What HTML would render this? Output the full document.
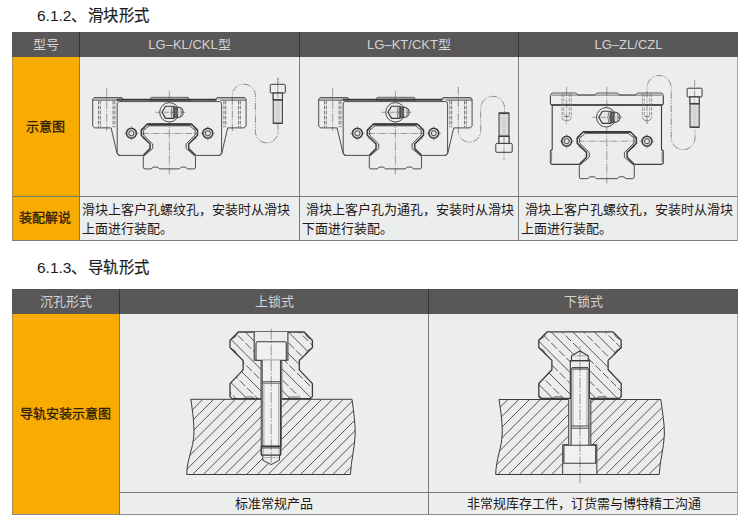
<!DOCTYPE html>
<html lang="zh-CN">
<head>
<meta charset="utf-8">
<title>6.1.2 滑块形式 / 6.1.3 导轨形式</title>
<style>
html,body{margin:0;padding:0;}
body{width:750px;height:528px;position:relative;overflow:hidden;background:#fff;
  font-family:"Liberation Sans",sans-serif;color:#231815;}
.abs{position:absolute;}
h2{position:absolute;margin:0;font-weight:500;font-size:15.4px;-webkit-text-stroke:0.2px #1a1a1a;line-height:20px;left:37px;color:#1a1a1a;white-space:nowrap;}
h2 .n{font-size:15.5px;-webkit-text-stroke:0;}
h2 .c{margin-left:1.3px;letter-spacing:0.45px;}
.hd{position:absolute;background:#595757;color:#d4d4d4;font-size:13px;text-align:center;white-space:nowrap;}
.lab{position:absolute;background:#f8ab00;color:#2e2008;font-size:13px;font-weight:500;-webkit-text-stroke:0.3px #2e2008;text-align:center;white-space:nowrap;}
.lab span{position:relative;left:-0.8px;}
.cell{position:absolute;background:#eceded;}
.txt{position:absolute;font-weight:500;font-size:13px;line-height:19.8px;color:#231815;white-space:nowrap;}
.cap{position:absolute;font-weight:500;font-size:13px;line-height:22px;color:#231815;text-align:center;white-space:nowrap;}
.vl{position:absolute;width:1px;background:#7a7a7a;}
.hl{position:absolute;height:1px;background:#7a7a7a;}
svg{position:absolute;left:0;top:0;}
</style>
</head>
<body>

<h2 style="top:5.5px;"><span class="n">6.1.2</span>、<span class="c">滑块形式</span></h2>

<!-- TABLE 1 -->
<div class="hd" style="left:12px;top:32px;width:726px;height:24.7px;"></div>
<div class="hd" style="left:12px;top:32px;width:68px;height:25px;line-height:25px;">型号</div>
<div class="hd" style="left:80px;top:32px;width:219px;height:25px;line-height:25px;">LG&#8211;KL/CKL型</div>
<div class="hd" style="left:300px;top:32px;width:218px;height:25px;line-height:25px;">LG&#8211;KT/CKT型</div>
<div class="hd" style="left:519px;top:32px;width:219px;height:25px;line-height:25px;">LG&#8211;ZL/CZL</div>

<div class="lab" style="left:12px;top:57px;width:68px;height:139px;line-height:139px;"><span>示意图</span></div>
<div class="lab" style="left:12px;top:196px;width:68px;height:45px;line-height:43.6px;"><span>装配解说</span></div>
<div class="cell" style="left:80px;top:57px;width:658px;height:184px;"></div>

<div class="txt" style="left:82px;top:199.6px;">滑块上客户孔螺纹孔，安装时从滑块<br>上面进行装配。</div>
<div class="txt" style="left:302px;top:199.6px;">&nbsp;滑块上客户孔为通孔，安装时从滑块<br>下面进行装配。</div>
<div class="txt" style="left:521px;top:199.6px;">&nbsp;滑块上客户孔螺纹孔，安装时从滑块<br>上面进行装配。</div>

<div class="hl" style="left:12px;top:196px;width:726px;"></div>
<div class="hl" style="left:12px;top:240px;width:726px;"></div>
<div class="vl" style="left:79px;top:32px;height:25px;background:#3a3636;"></div><div class="vl" style="left:79px;top:57px;height:184px;background:#8f7b4a;"></div>
<div class="vl" style="left:299px;top:32px;height:25px;background:#3a3636;"></div><div class="vl" style="left:299px;top:57px;height:184px;"></div>
<div class="vl" style="left:518px;top:32px;height:25px;background:#3a3636;"></div><div class="vl" style="left:518px;top:57px;height:184px;"></div>
<div class="vl" style="left:12px;top:57px;height:184px;background:#a58a4a;"></div>
<div class="vl" style="left:737px;top:57px;height:184px;background:#a9a9a9;"></div>

<h2 style="top:257.5px;"><span class="n">6.1.3</span>、<span class="c">导轨形式</span></h2>

<!-- TABLE 2 -->
<div class="hd" style="left:12px;top:289px;width:726px;height:25.5px;"></div>
<div class="hd" style="left:12px;top:289px;width:107px;height:25.5px;line-height:25.5px;">沉孔形式</div>
<div class="hd" style="left:120px;top:289px;width:308px;height:25.5px;line-height:25.5px;">上锁式</div>
<div class="hd" style="left:429px;top:289px;width:309px;height:25.5px;line-height:25.5px;">下锁式</div>

<div class="lab" style="left:12px;top:314px;width:108px;height:201px;line-height:199px;"><span>导轨安装示意图</span></div>
<div class="cell" style="left:120px;top:314px;width:618px;height:201px;"></div>
<div class="cap" style="left:120px;top:493px;width:308px;">标准常规产品</div>
<div class="cap" style="left:429px;top:493px;width:309px;">非常规库存工件，订货需与博特精工沟通</div>

<div class="hl" style="left:120px;top:492px;width:618px;"></div>
<div class="hl" style="left:12px;top:514px;width:726px;background:#8a8a8a;"></div>
<div class="vl" style="left:119px;top:289px;height:25px;background:#3a3636;"></div><div class="vl" style="left:119px;top:314px;height:201px;background:#8f7b4a;"></div>
<div class="vl" style="left:428px;top:289px;height:25px;background:#3a3636;"></div><div class="vl" style="left:428px;top:314px;height:201px;"></div>
<div class="vl" style="left:12px;top:314px;height:201px;background:#a58a4a;"></div>
<div class="vl" style="left:737px;top:314px;height:201px;background:#a9a9a9;"></div>

<!--DRAWINGS-->
<svg width="750" height="528" viewBox="0 0 750 528">
<g id="d1"><path d="M143.6,155.4 L119.1,155.4 L117.1,153.6 L111.1,127.9 L94.5,127.9 L92.7,125.9 L92.7,99.2 L94.1,97.6 L121.9,97.6 L123.6,100.2 L215.2,100.2 L216.9,97.6 L244.7,97.6 L246.1,99.2 L246.1,125.9 L244.3,127.9 L227.7,127.9 L221.7,153.6 L219.7,155.4 L195.2,155.4Z" fill="#ededee" stroke="none"/>
<path d="M94.1,97.6 L121.6,97.6 L123.6,100.2 L92.7,100.2 L92.7,99.2Z" fill="#c2c2c2"/>
<path d="M244.7,97.6 L217.2,97.6 L215.2,100.2 L246.1,100.2 L246.1,99.2Z" fill="#c2c2c2"/>
<path d="M149.6,100.2 L151.2,97.3 L188.2,97.3 L189.8,100.2Z" fill="#b4b4b4" stroke="#3e3a39" stroke-width="0.7"/>
<path d="M143.6,155.4 L119.1,155.4 L117.1,153.6 L111.1,127.9 L94.5,127.9 L92.7,125.9 L92.7,99.2 L94.1,97.6 L121.9,97.6 L123.6,100.2" fill="none" stroke="#3e3a39" stroke-width="0.9" stroke-linejoin="round"/>
<path d="M195.2,155.4 L219.7,155.4 L221.7,153.6 L227.7,127.9 L244.3,127.9 L246.1,125.9 L246.1,99.2 L244.7,97.6 L216.9,97.6 L215.2,100.2" fill="none" stroke="#3e3a39" stroke-width="0.9" stroke-linejoin="round"/>
<path d="M92.7,100.2 H118.4 M220.4,100.2 H246.1" stroke="#3e3a39" stroke-width="0.7" fill="none"/>
<path d="M116.8,99.8 H216.4" stroke="#3e3a39" stroke-width="2" fill="none"/>
<path d="M120.2,155.4 Q117.2,155.4 117.2,152.4 V103.8 Q117.2,101.6 119.4,101.6 H219.4 Q221.6,101.6 221.6,103.8 V152.4 Q221.6,155.4 218.6,155.4" fill="none" stroke="#3e3a39" stroke-width="0.9"/>
<path d="M98.5,100.8 V127.3" stroke="#777" stroke-width="1" stroke-dasharray="3.6 1.4" fill="none"/>
<path d="M100.3,100.8 V127.3" stroke="#777" stroke-width="1" stroke-dasharray="3.6 1.4" fill="none"/>
<path d="M113.1,100.8 V127.3" stroke="#777" stroke-width="1" stroke-dasharray="3.6 1.4" fill="none"/>
<path d="M114.9,100.8 V127.3" stroke="#777" stroke-width="1" stroke-dasharray="3.6 1.4" fill="none"/>
<path d="M223.9,100.8 V127.3" stroke="#777" stroke-width="1" stroke-dasharray="3.6 1.4" fill="none"/>
<path d="M225.7,100.8 V127.3" stroke="#777" stroke-width="1" stroke-dasharray="3.6 1.4" fill="none"/>
<path d="M238.5,100.8 V127.3" stroke="#777" stroke-width="1" stroke-dasharray="3.6 1.4" fill="none"/>
<path d="M240.3,100.8 V127.3" stroke="#777" stroke-width="1" stroke-dasharray="3.6 1.4" fill="none"/>
<path d="M106.7,87.6 V130.9" stroke="#3e3a39" stroke-width="0.45" stroke-dasharray="9 1.3 1.2 1.3" fill="none"/>
<path d="M149.1,125.8 L143.6,130.3 L143.6,135 L152.7,144 L152.7,148.5 L143.3,156.5 L143.3,167.2 Q143.3,168.9 145.1,168.9 H150.9 Q152.1,168.9 153.1,167.1 H157.2 Q158.2,167.1 159.4,168.9 H179.4 Q180.6,167.1 181.6,167.1 H185.7 Q186.7,168.9 187.9,168.9 H193.7 Q195.5,168.9 195.5,167.2 L195.5,156.5 L186.1,148.5 L186.1,144 L195.2,135 L195.2,130.3 L189.7,125.8Z" fill="#ececed" stroke="#3e3a39" stroke-width="0.9" stroke-linejoin="round"/>
<path d="M143.4,155.4 L150.1,148.6 L150.1,144 L141.3,135.2 L141.3,130.1 L147.1,124.2 L191.7,124.2 L197.5,130.1 L197.5,135.2 L188.7,144 L188.7,148.6 L195.4,155.4" fill="none" stroke="#3e3a39" stroke-width="1.5" stroke-linejoin="round"/>
<path d="M147.4,124.4 H191.4" stroke="#3e3a39" stroke-width="2.1"/>
<path d="M144.6,128.2 q-2.6,0.3 -3.2,3.2 M145.8,140.6 q-0.6,-2.6 -3.4,-2.6" fill="none" stroke="#3e3a39" stroke-width="0.7"/>
<path d="M194.2,128.2 q2.6,0.3 3.2,3.2 M193,140.6 q0.6,-2.6 3.4,-2.6" fill="none" stroke="#3e3a39" stroke-width="0.7"/>
<path d="M169.4,91 V174.5" stroke="#3e3a39" stroke-width="0.45" stroke-dasharray="9 1.3 1.2 1.3" fill="none"/>
<path d="M141.9,133.5 H197.4" stroke="#3e3a39" stroke-width="0.45" stroke-dasharray="7 1.3 1.2 1.3" fill="none"/>
<circle cx="131.4" cy="133.3" r="5" fill="#cfcfcf" stroke="#3e3a39" stroke-width="1.5"/>
<circle cx="131.4" cy="133.3" r="2.5" fill="#e6e6e6" stroke="#3e3a39" stroke-width="0.9"/>
<path d="M131.4,126.1 v1.6 M131.4,138.9 v1.6 M124.2,133.3 h1.6 M137,133.3 h1.6" stroke="#3e3a39" stroke-width="0.45" fill="none"/>
<circle cx="207.8" cy="133.3" r="5" fill="#cfcfcf" stroke="#3e3a39" stroke-width="1.5"/>
<circle cx="207.8" cy="133.3" r="2.5" fill="#e6e6e6" stroke="#3e3a39" stroke-width="0.9"/>
<path d="M207.8,126.1 v1.6 M207.8,138.9 v1.6 M200.6,133.3 h1.6 M213.4,133.3 h1.6" stroke="#3e3a39" stroke-width="0.45" fill="none"/>
<circle cx="169.4" cy="112.3" r="9.7" fill="#eceded" stroke="#3e3a39" stroke-width="0.9"/>
<path d="M174.2,118.36 L172.5,118.36 L165.5,118.36 L162,112.3 L165.5,106.24 L172.5,106.24 L174.2,106.24Z" fill="#e6e6e6" stroke="#3e3a39" stroke-width="1.2" stroke-linejoin="round"/>
<path d="M172,106.7 q-1.6,5.6 0,11.2 M173.6,106.9 q-1.6,5.4 0,10.8" fill="none" stroke="#3e3a39" stroke-width="0.6"/>
<path d="M174.6,107 h2.6 q0.9,5.3 0,10.6 h-2.6 q-1.2,-5.3 0,-10.6z" fill="#6f6f6f" stroke="#3e3a39" stroke-width="0.8"/>
<path d="M177.6,107.1 q5.6,0.2 5.6,5.2 q0,5 -5.6,5.2 q-1,-5.2 0,-10.4z" fill="#dedede" stroke="#3e3a39" stroke-width="1"/>
<path d="M180.6,108.1 q1.8,4.2 0,8.4" fill="none" stroke="#3e3a39" stroke-width="0.55"/>
<path d="M155.4,112.3 H185.4" stroke="#3e3a39" stroke-width="0.45" stroke-dasharray="5 1.2 1 1.2" fill="none"/>
<path d="M232.3,131 V95.7 A11.55,11.55 0 0 1 255.4,95.7 V131.6 A11.3,11.3 0 0 0 278,131.6 V77" stroke="#3e3a39" stroke-width="0.55" stroke-dasharray="7 1.3 1.1 1.3 1.1 1.3" fill="none"/>
<rect x="270.3" y="84.3" width="15" height="8.8" rx="1" fill="#eceded" stroke="#3e3a39" stroke-width="1"/>
<rect x="273.2" y="93.1" width="9.2" height="30.2" fill="#d4d4d4" stroke="#3e3a39" stroke-width="1"/>
<rect x="273.2" y="93.1" width="9.2" height="6.6" fill="#eceded" stroke="#3e3a39" stroke-width="1"/>
<path d="M273.2,99.9 h9.2" stroke="#3e3a39" stroke-width="1.4"/>
<path d="M275.2,101.3 v22 M280.4,101.3 v22" stroke="#f4f4f4" stroke-width="0.8" stroke-dasharray="2.2 1.2" fill="none"/>
<path d="M273.2,123.3 h9.2" stroke="#3e3a39" stroke-width="1.3"/>
<path d="M277.8,78 V98" stroke="#3e3a39" stroke-width="0.45" fill="none"/></g>
<g id="d2"><path d="M369.6,155.4 L345.1,155.4 L343.1,153.6 L337.1,127.9 L320.5,127.9 L318.7,125.9 L318.7,99.2 L320.1,97.6 L347.9,97.6 L349.6,100.2 L441.2,100.2 L442.9,97.6 L470.7,97.6 L472.1,99.2 L472.1,125.9 L470.3,127.9 L453.7,127.9 L447.7,153.6 L445.7,155.4 L421.2,155.4Z" fill="#ededee" stroke="none"/>
<path d="M320.1,97.6 L347.6,97.6 L349.6,100.2 L318.7,100.2 L318.7,99.2Z" fill="#c2c2c2"/>
<path d="M470.7,97.6 L443.2,97.6 L441.2,100.2 L472.1,100.2 L472.1,99.2Z" fill="#c2c2c2"/>
<path d="M375.6,100.2 L377.2,97.3 L414.2,97.3 L415.8,100.2Z" fill="#b4b4b4" stroke="#3e3a39" stroke-width="0.7"/>
<path d="M369.6,155.4 L345.1,155.4 L343.1,153.6 L337.1,127.9 L320.5,127.9 L318.7,125.9 L318.7,99.2 L320.1,97.6 L347.9,97.6 L349.6,100.2" fill="none" stroke="#3e3a39" stroke-width="0.9" stroke-linejoin="round"/>
<path d="M421.2,155.4 L445.7,155.4 L447.7,153.6 L453.7,127.9 L470.3,127.9 L472.1,125.9 L472.1,99.2 L470.7,97.6 L442.9,97.6 L441.2,100.2" fill="none" stroke="#3e3a39" stroke-width="0.9" stroke-linejoin="round"/>
<path d="M318.7,100.2 H344.4 M446.4,100.2 H472.1" stroke="#3e3a39" stroke-width="0.7" fill="none"/>
<path d="M342.8,99.8 H442.4" stroke="#3e3a39" stroke-width="2" fill="none"/>
<path d="M346.2,155.4 Q343.2,155.4 343.2,152.4 V103.8 Q343.2,101.6 345.4,101.6 H445.4 Q447.6,101.6 447.6,103.8 V152.4 Q447.6,155.4 444.6,155.4" fill="none" stroke="#3e3a39" stroke-width="0.9"/>
<path d="M324.5,100.8 V127.3" stroke="#777" stroke-width="1" stroke-dasharray="3.6 1.4" fill="none"/>
<path d="M326.3,100.8 V127.3" stroke="#777" stroke-width="1" stroke-dasharray="3.6 1.4" fill="none"/>
<path d="M339.1,100.8 V127.3" stroke="#777" stroke-width="1" stroke-dasharray="3.6 1.4" fill="none"/>
<path d="M340.9,100.8 V127.3" stroke="#777" stroke-width="1" stroke-dasharray="3.6 1.4" fill="none"/>
<path d="M449.9,100.8 V127.3" stroke="#777" stroke-width="1" stroke-dasharray="3.6 1.4" fill="none"/>
<path d="M451.7,100.8 V127.3" stroke="#777" stroke-width="1" stroke-dasharray="3.6 1.4" fill="none"/>
<path d="M464.5,100.8 V127.3" stroke="#777" stroke-width="1" stroke-dasharray="3.6 1.4" fill="none"/>
<path d="M466.3,100.8 V127.3" stroke="#777" stroke-width="1" stroke-dasharray="3.6 1.4" fill="none"/>
<path d="M332.7,87.6 V130.9" stroke="#3e3a39" stroke-width="0.45" stroke-dasharray="9 1.3 1.2 1.3" fill="none"/>
<path d="M375.1,125.8 L369.6,130.3 L369.6,135 L378.7,144 L378.7,148.5 L369.3,156.5 L369.3,167.2 Q369.3,168.9 371.1,168.9 H376.9 Q378.1,168.9 379.1,167.1 H383.2 Q384.2,167.1 385.4,168.9 H405.4 Q406.6,167.1 407.6,167.1 H411.7 Q412.7,168.9 413.9,168.9 H419.7 Q421.5,168.9 421.5,167.2 L421.5,156.5 L412.1,148.5 L412.1,144 L421.2,135 L421.2,130.3 L415.7,125.8Z" fill="#ececed" stroke="#3e3a39" stroke-width="0.9" stroke-linejoin="round"/>
<path d="M369.4,155.4 L376.1,148.6 L376.1,144 L367.3,135.2 L367.3,130.1 L373.1,124.2 L417.7,124.2 L423.5,130.1 L423.5,135.2 L414.7,144 L414.7,148.6 L421.4,155.4" fill="none" stroke="#3e3a39" stroke-width="1.5" stroke-linejoin="round"/>
<path d="M373.4,124.4 H417.4" stroke="#3e3a39" stroke-width="2.1"/>
<path d="M370.6,128.2 q-2.6,0.3 -3.2,3.2 M371.8,140.6 q-0.6,-2.6 -3.4,-2.6" fill="none" stroke="#3e3a39" stroke-width="0.7"/>
<path d="M420.2,128.2 q2.6,0.3 3.2,3.2 M419,140.6 q0.6,-2.6 3.4,-2.6" fill="none" stroke="#3e3a39" stroke-width="0.7"/>
<path d="M395.4,91 V174.5" stroke="#3e3a39" stroke-width="0.45" stroke-dasharray="9 1.3 1.2 1.3" fill="none"/>
<path d="M367.9,133.5 H423.4" stroke="#3e3a39" stroke-width="0.45" stroke-dasharray="7 1.3 1.2 1.3" fill="none"/>
<circle cx="357.4" cy="133.3" r="5" fill="#cfcfcf" stroke="#3e3a39" stroke-width="1.5"/>
<circle cx="357.4" cy="133.3" r="2.5" fill="#e6e6e6" stroke="#3e3a39" stroke-width="0.9"/>
<path d="M357.4,126.1 v1.6 M357.4,138.9 v1.6 M350.2,133.3 h1.6 M363,133.3 h1.6" stroke="#3e3a39" stroke-width="0.45" fill="none"/>
<circle cx="433.8" cy="133.3" r="5" fill="#cfcfcf" stroke="#3e3a39" stroke-width="1.5"/>
<circle cx="433.8" cy="133.3" r="2.5" fill="#e6e6e6" stroke="#3e3a39" stroke-width="0.9"/>
<path d="M433.8,126.1 v1.6 M433.8,138.9 v1.6 M426.6,133.3 h1.6 M439.4,133.3 h1.6" stroke="#3e3a39" stroke-width="0.45" fill="none"/>
<circle cx="395.4" cy="112.3" r="9.7" fill="#eceded" stroke="#3e3a39" stroke-width="0.9"/>
<path d="M400.2,118.36 L398.5,118.36 L391.5,118.36 L388,112.3 L391.5,106.24 L398.5,106.24 L400.2,106.24Z" fill="#e6e6e6" stroke="#3e3a39" stroke-width="1.2" stroke-linejoin="round"/>
<path d="M398,106.7 q-1.6,5.6 0,11.2 M399.6,106.9 q-1.6,5.4 0,10.8" fill="none" stroke="#3e3a39" stroke-width="0.6"/>
<path d="M400.6,107 h2.6 q0.9,5.3 0,10.6 h-2.6 q-1.2,-5.3 0,-10.6z" fill="#6f6f6f" stroke="#3e3a39" stroke-width="0.8"/>
<path d="M403.6,107.1 q5.6,0.2 5.6,5.2 q0,5 -5.6,5.2 q-1,-5.2 0,-10.4z" fill="#dedede" stroke="#3e3a39" stroke-width="1"/>
<path d="M406.6,108.1 q1.8,4.2 0,8.4" fill="none" stroke="#3e3a39" stroke-width="0.55"/>
<path d="M381.4,112.3 H411.4" stroke="#3e3a39" stroke-width="0.45" stroke-dasharray="5 1.2 1 1.2" fill="none"/>
<path d="M458.3,87 V131 A11.2,11.2 0 0 0 480.7,131 V108.3 A12,12 0 0 1 504.7,108.3 V113" stroke="#3e3a39" stroke-width="0.55" stroke-dasharray="7 1.3 1.1 1.3 1.1 1.3" fill="none"/>
<rect x="499" y="113" width="10" height="30.4" fill="#d4d4d4" stroke="#3e3a39" stroke-width="1"/>
<rect x="499" y="136.4" width="10" height="7" fill="#eceded" stroke="#3e3a39" stroke-width="1"/>
<path d="M499,136.2 h10" stroke="#3e3a39" stroke-width="1.4"/>
<path d="M499,113.2 h10" stroke="#3e3a39" stroke-width="1.4"/>
<path d="M501.2,115 v20 M506.8,115 v20" stroke="#f4f4f4" stroke-width="0.8" stroke-dasharray="2.2 1.2" fill="none"/>
<rect x="495.8" y="143.4" width="16.4" height="8.9" rx="1" fill="#eceded" stroke="#3e3a39" stroke-width="1"/>
<path d="M504,136 V160" stroke="#3e3a39" stroke-width="0.45" stroke-dasharray="7 1.3 1.2 1.3" fill="none"/></g>
<g id="d3"><path d="M550.4,95.4 Q550.4,93 552.8,93 H660.9 Q663.3,93 663.3,95.4 V164.4 H550.4 Z" fill="#ededee"/>
<path d="M550.4,95.6 L551,93.8 L552.8,93 L576,93 L578,95 L594.7,95 L596.7,93 L617.6,93 L619.4,95 L635.6,95 L637.4,93 L660.9,93 L662.7,93.8 L663.3,95.6" fill="none" stroke="#3e3a39" stroke-width="0.85" stroke-linejoin="round"/>
<path d="M551.6,95.1 H662.1" stroke="#3e3a39" stroke-width="0.7" fill="none"/>
<path d="M550.4,95.6 V103 Q550.4,105 552.4,105 H661.3 Q663.3,105 663.3,103 V95.6" fill="none" stroke="#3e3a39" stroke-width="1.1"/>
<path d="M552.4,105 H661.3" stroke="#3e3a39" stroke-width="1.5" fill="none"/>
<path d="M552.2,105 V149.5 L550.4,151 V161.9 Q550.4,164.4 553,164.4" fill="none" stroke="#3e3a39" stroke-width="1.1" stroke-linejoin="round"/>
<path d="M551.3,151.5 V161.9" stroke="#8a8a8a" stroke-width="1.6" fill="none"/>
<path d="M661.5,105 V149.5 L663.3,151 V161.9 Q663.3,164.4 660.7,164.4" fill="none" stroke="#3e3a39" stroke-width="1.1" stroke-linejoin="round"/>
<path d="M662.4,151.5 V161.9" stroke="#8a8a8a" stroke-width="1.6" fill="none"/>
<path d="M552.8,164.4 H579.42 M634.18,164.4 H660.9" stroke="#3e3a39" stroke-width="1.1" fill="none"/>
<path d="M562,93.6 V117.6" stroke="#6e6e6e" stroke-width="0.7" stroke-dasharray="3.4 1.2" fill="none"/>
<path d="M571.2,93.6 V117.6" stroke="#6e6e6e" stroke-width="0.7" stroke-dasharray="3.4 1.2" fill="none"/>
<path d="M563.9,93.6 V116.2" stroke="#6e6e6e" stroke-width="0.6" stroke-dasharray="3.4 1.2" fill="none"/>
<path d="M569.3,93.6 V116.2" stroke="#6e6e6e" stroke-width="0.6" stroke-dasharray="3.4 1.2" fill="none"/>
<path d="M563.9,116.4 H569.3" stroke="#6a6a6a" stroke-width="0.9" fill="none"/>
<path d="M562,117.6 Q562.4,120.6 566.6,121 Q570.8,120.6 571.2,117.6" stroke="#7a7a7a" stroke-width="0.8" fill="none"/>
<path d="M566.6,87 V125" stroke="#3e3a39" stroke-width="0.45" stroke-dasharray="9 1.3 1.2 1.3" fill="none"/>
<path d="M642.4,93.6 V117.6" stroke="#6e6e6e" stroke-width="0.7" stroke-dasharray="3.4 1.2" fill="none"/>
<path d="M651.6,93.6 V117.6" stroke="#6e6e6e" stroke-width="0.7" stroke-dasharray="3.4 1.2" fill="none"/>
<path d="M644.3,93.6 V116.2" stroke="#6e6e6e" stroke-width="0.6" stroke-dasharray="3.4 1.2" fill="none"/>
<path d="M649.7,93.6 V116.2" stroke="#6e6e6e" stroke-width="0.6" stroke-dasharray="3.4 1.2" fill="none"/>
<path d="M644.3,116.4 H649.7" stroke="#6a6a6a" stroke-width="0.9" fill="none"/>
<path d="M642.4,117.6 Q642.8,120.6 647,121 Q651.2,120.6 651.6,117.6" stroke="#7a7a7a" stroke-width="0.8" fill="none"/>
<path d="M585.42,133.3 L579.63,138.04 L579.63,142.99 L589.21,152.46 L589.21,157.2 L579.32,165.63 L579.32,176.89 Q579.32,178.68 581.21,178.68 H587.32 Q588.58,178.68 589.64,176.79 H593.95 Q595.01,176.79 596.27,178.68 H617.33 Q618.59,176.79 619.65,176.79 H623.96 Q625.02,178.68 626.28,178.68 H632.39 Q634.28,178.68 634.28,176.89 L634.28,165.63 L624.39,157.2 L624.39,152.46 L633.97,142.99 L633.97,138.04 L628.18,133.3Z" fill="#ececed" stroke="#3e3a39" stroke-width="0.9" stroke-linejoin="round"/>
<path d="M579.42,164.4 L586.48,157.24 L586.48,152.4 L577.21,143.13 L577.21,137.76 L583.32,131.8 L630.28,131.8 L636.39,137.76 L636.39,143.13 L627.12,152.4 L627.12,157.24 L634.18,164.4" fill="none" stroke="#3e3a39" stroke-width="1.5" stroke-linejoin="round"/>
<path d="M583.8,132 H629.8" stroke="#3e3a39" stroke-width="2.1"/>
<path d="M580.8,136 q-2.6,0.3 -3.2,3.2 M582,149 q-0.6,-2.6 -3.4,-2.6" fill="none" stroke="#3e3a39" stroke-width="0.7"/>
<path d="M632.8,136 q2.6,0.3 3.2,3.2 M631.6,149 q0.6,-2.6 3.4,-2.6" fill="none" stroke="#3e3a39" stroke-width="0.7"/>
<path d="M606.8,87 V183.5" stroke="#3e3a39" stroke-width="0.45" stroke-dasharray="9 1.3 1.2 1.3" fill="none"/>
<path d="M577.8,141.2 H636.3" stroke="#3e3a39" stroke-width="0.45" stroke-dasharray="7 1.3 1.2 1.3" fill="none"/>
<circle cx="566.7" cy="141.2" r="5" fill="#cfcfcf" stroke="#3e3a39" stroke-width="1.5"/>
<circle cx="566.7" cy="141.2" r="2.5" fill="#e6e6e6" stroke="#3e3a39" stroke-width="0.9"/>
<path d="M566.7,134 v1.6 M566.7,146.8 v1.6 M559.5,141.2 h1.6 M572.3,141.2 h1.6" stroke="#3e3a39" stroke-width="0.45" fill="none"/>
<circle cx="647" cy="141.2" r="5" fill="#cfcfcf" stroke="#3e3a39" stroke-width="1.5"/>
<circle cx="647" cy="141.2" r="2.5" fill="#e6e6e6" stroke="#3e3a39" stroke-width="0.9"/>
<path d="M647,134 v1.6 M647,146.8 v1.6 M639.8,141.2 h1.6 M652.6,141.2 h1.6" stroke="#3e3a39" stroke-width="0.45" fill="none"/>
<circle cx="606.2" cy="117.3" r="9.7" fill="#eceded" stroke="#3e3a39" stroke-width="0.9"/>
<path d="M611,123.36 L609.3,123.36 L602.3,123.36 L598.8,117.3 L602.3,111.24 L609.3,111.24 L611,111.24Z" fill="#e6e6e6" stroke="#3e3a39" stroke-width="1.2" stroke-linejoin="round"/>
<path d="M608.8,111.7 q-1.6,5.6 0,11.2 M610.4,111.9 q-1.6,5.4 0,10.8" fill="none" stroke="#3e3a39" stroke-width="0.6"/>
<path d="M611.4,112 h2.6 q0.9,5.3 0,10.6 h-2.6 q-1.2,-5.3 0,-10.6z" fill="#6f6f6f" stroke="#3e3a39" stroke-width="0.8"/>
<path d="M614.4,112.1 q5.6,0.2 5.6,5.2 q0,5 -5.6,5.2 q-1,-5.2 0,-10.4z" fill="#dedede" stroke="#3e3a39" stroke-width="1"/>
<path d="M617.4,113.1 q1.8,4.2 0,8.4" fill="none" stroke="#3e3a39" stroke-width="0.55"/>
<path d="M592.2,117.3 H622.2" stroke="#3e3a39" stroke-width="0.45" stroke-dasharray="5 1.2 1 1.2" fill="none"/>
<path d="M647,124 V87.6 A12.1,12.1 0 0 1 671.2,87.6 V137.8 A11.9,11.9 0 0 0 695,137.8 V129.5" stroke="#3e3a39" stroke-width="0.55" stroke-dasharray="7 1.3 1.1 1.3 1.1 1.3" fill="none"/>
<rect x="687.1" y="88.2" width="15" height="8.8" rx="1" fill="#eceded" stroke="#3e3a39" stroke-width="1"/>
<rect x="690" y="97" width="9.2" height="30.2" fill="#d4d4d4" stroke="#3e3a39" stroke-width="1"/>
<rect x="690" y="97" width="9.2" height="6.6" fill="#eceded" stroke="#3e3a39" stroke-width="1"/>
<path d="M690,103.8 h9.2" stroke="#3e3a39" stroke-width="1.4"/>
<path d="M692,105.2 v22 M697.2,105.2 v22" stroke="#f4f4f4" stroke-width="0.8" stroke-dasharray="2.2 1.2" fill="none"/>
<path d="M690,127.2 h9.2" stroke="#3e3a39" stroke-width="1.3"/>
<path d="M694.6,79.7 V103" stroke="#3e3a39" stroke-width="0.45" stroke-dasharray="7 1.3 1.2 1.3" fill="none"/></g>
<g id="d4"><defs>
<clipPath id="cR1"><path d="M238.2,332 L230,340.4 L230,347.6 L243.1,360.5 L243.1,369.9 L230,383.6 L230,396.6 L232,398.6 L310.4,398.6 L312.4,396.6 L312.4,383.6 L299.3,369.9 L299.3,360.5 L312.4,347.6 L312.4,340.4 L304.2,332Z"/></clipPath>
<clipPath id="cB1"><path d="M190.8,399.3 H352 C353.6,411.3 355.4,424 355.2,434 C354.8,448 351,460.5 350.4,474.5 H186.7 C187,458.5 193.3,449 193.9,434 C194.3,426 192.8,411.3 190.8,399.3Z"/></clipPath>
</defs>
<path d="M190.8,399.3 H352 C353.6,411.3 355.4,424 355.2,434 C354.8,448 351,460.5 350.4,474.5 H186.7 C187,458.5 193.3,449 193.9,434 C194.3,426 192.8,411.3 190.8,399.3Z" fill="#ececed"/>
<g clip-path="url(#cB1)" stroke="#3c3c3c" stroke-width="0.85" fill="none">
<path d="M164,395 L79,480"/>
<path d="M174.8,395 L89.8,480"/>
<path d="M185.6,395 L100.6,480"/>
<path d="M196.4,395 L111.4,480"/>
<path d="M207.2,395 L122.2,480"/>
<path d="M218,395 L133,480"/>
<path d="M228.8,395 L143.8,480"/>
<path d="M239.6,395 L154.6,480"/>
<path d="M250.4,395 L165.4,480"/>
<path d="M261.2,395 L176.2,480"/>
<path d="M272,395 L187,480"/>
<path d="M282.8,395 L197.8,480"/>
<path d="M293.6,395 L208.6,480"/>
<path d="M304.4,395 L219.4,480"/>
<path d="M315.2,395 L230.2,480"/>
<path d="M326,395 L241,480"/>
<path d="M336.8,395 L251.8,480"/>
<path d="M347.6,395 L262.6,480"/>
<path d="M358.4,395 L273.4,480"/>
<path d="M369.2,395 L284.2,480"/>
<path d="M380,395 L295,480"/>
<path d="M390.8,395 L305.8,480"/>
<path d="M401.6,395 L316.6,480"/>
<path d="M412.4,395 L327.4,480"/>
<path d="M423.2,395 L338.2,480"/>
<path d="M434,395 L349,480"/>
<path d="M444.8,395 L359.8,480"/>
<path d="M455.6,395 L370.6,480"/>
<path d="M466.4,395 L381.4,480"/>
</g>
<path d="M190.8,399.3 H352 C353.6,411.3 355.4,424 355.2,434 C354.8,448 351,460.5 350.4,474.5 H186.7 C187,458.5 193.3,449 193.9,434 C194.3,426 192.8,411.3 190.8,399.3Z" fill="none" stroke="#3e3a39" stroke-width="1" stroke-linejoin="round"/>
<path d="M238.2,332 L230,340.4 L230,347.6 L243.1,360.5 L243.1,369.9 L230,383.6 L230,396.6 L232,398.6 L310.4,398.6 L312.4,396.6 L312.4,383.6 L299.3,369.9 L299.3,360.5 L312.4,347.6 L312.4,340.4 L304.2,332Z" fill="#ececed"/>
<g clip-path="url(#cR1)" stroke="#3c3c3c" stroke-width="0.85" fill="none">
<path d="M133.2,328 L207.2,402"/>
<path d="M144,328 L218,402" stroke-dasharray="8 2.6"/>
<path d="M154.8,328 L228.8,402"/>
<path d="M165.6,328 L239.6,402" stroke-dasharray="8 2.6"/>
<path d="M176.4,328 L250.4,402"/>
<path d="M187.2,328 L261.2,402" stroke-dasharray="8 2.6"/>
<path d="M198,328 L272,402"/>
<path d="M208.8,328 L282.8,402" stroke-dasharray="8 2.6"/>
<path d="M219.6,328 L293.6,402"/>
<path d="M230.4,328 L304.4,402" stroke-dasharray="8 2.6"/>
<path d="M241.2,328 L315.2,402"/>
<path d="M252,328 L326,402" stroke-dasharray="8 2.6"/>
<path d="M262.8,328 L336.8,402"/>
<path d="M273.6,328 L347.6,402" stroke-dasharray="8 2.6"/>
<path d="M284.4,328 L358.4,402"/>
<path d="M295.2,328 L369.2,402" stroke-dasharray="8 2.6"/>
<path d="M306,328 L380,402"/>
<path d="M316.8,328 L390.8,402" stroke-dasharray="8 2.6"/>
<path d="M327.6,328 L401.6,402"/>
<path d="M338.4,328 L412.4,402" stroke-dasharray="8 2.6"/>
</g>
<path d="M237.6,332.7 Q236,338.2 230.6,339.7 Z" fill="#f2f2f2" stroke="#3e3a39" stroke-width="0.8"/>
<path d="M230.4,348 Q235.6,349.6 237.2,354.8 Z" fill="#f2f2f2" stroke="#3e3a39" stroke-width="0.8"/>
<path d="M304.8,332.7 Q306.4,338.2 311.8,339.7 Z" fill="#f2f2f2" stroke="#3e3a39" stroke-width="0.8"/>
<path d="M312,348 Q306.8,349.6 305.2,354.8 Z" fill="#f2f2f2" stroke="#3e3a39" stroke-width="0.8"/>
<path d="M244,399 L245.4,397 H253 L254.4,399 Z" fill="#ececed" stroke="#3e3a39" stroke-width="0.7"/>
<path d="M298.4,399 L297,397 H289.4 L288,399 Z" fill="#ececed" stroke="#3e3a39" stroke-width="0.7"/>
<path d="M238.2,332 L230,340.4 L230,347.6 L243.1,360.5 L243.1,369.9 L230,383.6 L230,396.6 L232,398.6 L310.4,398.6 L312.4,396.6 L312.4,383.6 L299.3,369.9 L299.3,360.5 L312.4,347.6 L312.4,340.4 L304.2,332Z" fill="none" stroke="#3e3a39" stroke-width="1.3" stroke-linejoin="round"/>
<rect x="254.2" y="332" width="33.7" height="28.2" fill="#ececed" stroke="none"/>
<rect x="261" y="360" width="20.8" height="86.5" fill="#ececed"/>
<path d="M261.3,446 V455.1 H262.8 V460.2 L271.1,464.6 L279.5,460.2 V455.1 H280.7 V446 Z" fill="#ececed" stroke="#3e3a39" stroke-width="1" stroke-linejoin="round"/>
<path d="M261.3,455.1 H280.7" stroke="#3e3a39" stroke-width="1.3"/>
<path d="M262.8,457.6 H279.5" stroke="#8a8a8a" stroke-width="0.6"/>
<path d="M254.2,332 V360.2 H261 M287.9,332 V360.2 H281.8" fill="none" stroke="#3e3a39" stroke-width="1.1"/>
<path d="M261,360.2 V399 M281.8,360.2 V399" fill="none" stroke="#3e3a39" stroke-width="0.9"/>
<path d="M256,360.2 V343.4 Q256,341.8 257.6,341.8 H284.7 Q286.3,341.8 286.3,343.4 V360.2 Z" fill="#f1f1f1" stroke="#3e3a39" stroke-width="1.1"/>
<path d="M262.1,360.2 V446.4 H280.5 V360.2" fill="#f1f1f1" stroke="#3e3a39" stroke-width="1.1"/>
<path d="M261.2,399 V446.4 M281.4,399 V446.4" fill="none" stroke="#3e3a39" stroke-width="0.8"/>
<path d="M262.1,381.6 H280.5 M262.1,383.2 H280.5" stroke="#3e3a39" stroke-width="0.8"/>
<path d="M263.9,383.2 V446 M278.7,383.2 V446" stroke="#6a6a6a" stroke-width="0.6"/>
<path d="M261.3,446 V455.1 M280.7,446 V455.1" stroke="#3e3a39" stroke-width="1.1"/>
<path d="M263.1,448 V455 M279.2,448 V455" stroke="#6a6a6a" stroke-width="0.6"/>
<path d="M261.3,446.1 H280.7 M261.8,447.9 H280.2" stroke="#3e3a39" stroke-width="1"/>
<path d="M271.2,328.8 V463" stroke="#3e3a39" stroke-width="0.5" stroke-dasharray="11 1.6 1.6 1.6" fill="none"/></g>
<g id="d5"><defs>
<clipPath id="cR2"><path d="M547,331.9 L538.8,340.3 L538.8,347.5 L551.9,360.4 L551.9,369.8 L538.8,383.5 L538.8,396.5 L540.8,398.5 L619.2,398.5 L621.2,396.5 L621.2,383.5 L608.1,369.8 L608.1,360.4 L621.2,347.5 L621.2,340.3 L613,331.9Z"/></clipPath>
<clipPath id="cB2"><path d="M499,399.5 H660.8 C662.4,411.5 664.6,424 664.4,434 C664,448 659.8,460.5 659.2,474.5 H495.7 C496,458.5 501.6,449 502.2,434 C502.6,426 501,411.5 499,399.5Z"/></clipPath>
</defs>
<path d="M499,399.5 H660.8 C662.4,411.5 664.6,424 664.4,434 C664,448 659.8,460.5 659.2,474.5 H495.7 C496,458.5 501.6,449 502.2,434 C502.6,426 501,411.5 499,399.5Z" fill="#ececed"/>
<g clip-path="url(#cB2)" stroke="#3c3c3c" stroke-width="0.85" fill="none">
<path d="M469.2,395 L384.2,480"/>
<path d="M480,395 L395,480"/>
<path d="M490.8,395 L405.8,480"/>
<path d="M501.6,395 L416.6,480"/>
<path d="M512.4,395 L427.4,480"/>
<path d="M523.2,395 L438.2,480"/>
<path d="M534,395 L449,480"/>
<path d="M544.8,395 L459.8,480"/>
<path d="M555.6,395 L470.6,480"/>
<path d="M566.4,395 L481.4,480"/>
<path d="M577.2,395 L492.2,480"/>
<path d="M588,395 L503,480"/>
<path d="M598.8,395 L513.8,480"/>
<path d="M609.6,395 L524.6,480"/>
<path d="M620.4,395 L535.4,480"/>
<path d="M631.2,395 L546.2,480"/>
<path d="M642,395 L557,480"/>
<path d="M652.8,395 L567.8,480"/>
<path d="M663.6,395 L578.6,480"/>
<path d="M674.4,395 L589.4,480"/>
<path d="M685.2,395 L600.2,480"/>
<path d="M696,395 L611,480"/>
<path d="M706.8,395 L621.8,480"/>
<path d="M717.6,395 L632.6,480"/>
<path d="M728.4,395 L643.4,480"/>
<path d="M739.2,395 L654.2,480"/>
<path d="M750,395 L665,480"/>
<path d="M760.8,395 L675.8,480"/>
<path d="M771.6,395 L686.6,480"/>
</g>
<path d="M499,399.5 H660.8 C662.4,411.5 664.6,424 664.4,434 C664,448 659.8,460.5 659.2,474.5 H495.7 C496,458.5 501.6,449 502.2,434 C502.6,426 501,411.5 499,399.5Z" fill="none" stroke="#3e3a39" stroke-width="1" stroke-linejoin="round"/>
<path d="M547,331.9 L538.8,340.3 L538.8,347.5 L551.9,360.4 L551.9,369.8 L538.8,383.5 L538.8,396.5 L540.8,398.5 L619.2,398.5 L621.2,396.5 L621.2,383.5 L608.1,369.8 L608.1,360.4 L621.2,347.5 L621.2,340.3 L613,331.9Z" fill="#ececed"/>
<g clip-path="url(#cR2)" stroke="#3c3c3c" stroke-width="0.85" fill="none">
<path d="M439.2,328 L513.2,402"/>
<path d="M450,328 L524,402" stroke-dasharray="8 2.6"/>
<path d="M460.8,328 L534.8,402"/>
<path d="M471.6,328 L545.6,402" stroke-dasharray="8 2.6"/>
<path d="M482.4,328 L556.4,402"/>
<path d="M493.2,328 L567.2,402" stroke-dasharray="8 2.6"/>
<path d="M504,328 L578,402"/>
<path d="M514.8,328 L588.8,402" stroke-dasharray="8 2.6"/>
<path d="M525.6,328 L599.6,402"/>
<path d="M536.4,328 L610.4,402" stroke-dasharray="8 2.6"/>
<path d="M547.2,328 L621.2,402"/>
<path d="M558,328 L632,402" stroke-dasharray="8 2.6"/>
<path d="M568.8,328 L642.8,402"/>
<path d="M579.6,328 L653.6,402" stroke-dasharray="8 2.6"/>
<path d="M590.4,328 L664.4,402"/>
<path d="M601.2,328 L675.2,402" stroke-dasharray="8 2.6"/>
<path d="M612,328 L686,402"/>
<path d="M622.8,328 L696.8,402" stroke-dasharray="8 2.6"/>
<path d="M633.6,328 L707.6,402"/>
<path d="M644.4,328 L718.4,402" stroke-dasharray="8 2.6"/>
</g>
<path d="M546.4,332.6 Q544.8,338.1 539.4,339.6 Z" fill="#f2f2f2" stroke="#3e3a39" stroke-width="0.8"/>
<path d="M539.2,347.9 Q544.4,349.5 546,354.7 Z" fill="#f2f2f2" stroke="#3e3a39" stroke-width="0.8"/>
<path d="M613.6,332.6 Q615.2,338.1 620.6,339.6 Z" fill="#f2f2f2" stroke="#3e3a39" stroke-width="0.8"/>
<path d="M620.8,347.9 Q615.6,349.5 614,354.7 Z" fill="#f2f2f2" stroke="#3e3a39" stroke-width="0.8"/>
<path d="M552.8,398.8 L554.2,396.8 H561.8 L563.2,398.8 Z" fill="#ececed" stroke="#3e3a39" stroke-width="0.7"/>
<path d="M607.2,398.8 L605.8,396.8 H598.2 L596.8,398.8 Z" fill="#ececed" stroke="#3e3a39" stroke-width="0.7"/>
<path d="M547,331.9 L538.8,340.3 L538.8,347.5 L551.9,360.4 L551.9,369.8 L538.8,383.5 L538.8,396.5 L540.8,398.5 L619.2,398.5 L621.2,396.5 L621.2,383.5 L608.1,369.8 L608.1,360.4 L621.2,347.5 L621.2,340.3 L613,331.9Z" fill="none" stroke="#3e3a39" stroke-width="1.3" stroke-linejoin="round"/>
<path d="M570.3,399 V360.7 H571.5 V355.8 L579.8,351 L588.2,355.8 V360.7 H589.4 V399 Z" fill="#ececed" stroke="#3e3a39" stroke-width="1.1" stroke-linejoin="round"/>
<path d="M571.5,355.8 H588.2" stroke="#7a7a7a" stroke-width="0.6"/>
<path d="M570.3,360.7 H589.4" stroke="#3e3a39" stroke-width="1.4"/>
<rect x="568.7" y="399" width="22.1" height="46" fill="#ececed"/>
<rect x="562.7" y="444.7" width="34.1" height="31" fill="#ececed"/>
<path d="M568.7,399.4 V444.7 H562.7 V474.5 M590.8,399.4 V444.7 H596.8 V474.5" fill="none" stroke="#3e3a39" stroke-width="1"/>
<path d="M562.7,474.5 H596.8" stroke="#3e3a39" stroke-width="1"/>
<path d="M571.1,445.2 V369.8 L572.6,367.6 H587.4 L588.9,369.8 V445.2" fill="#f1f1f1" stroke="#3e3a39" stroke-width="1.1" stroke-linejoin="round"/>
<path d="M571.3,369.9 L572.7,367.7 H587.3 L588.7,369.9 Z" fill="#8c8c8c" stroke="none"/>
<path d="M571.1,426 H588.9 M571.1,428.2 H588.9" stroke="#3e3a39" stroke-width="0.9"/>
<path d="M573,370 V426 M587,370 V426" stroke="#6a6a6a" stroke-width="0.6"/>
<path d="M563.9,445.2 H595.7 V463.3 H563.9 Z" fill="#f1f1f1" stroke="#3e3a39" stroke-width="1.1"/>
<path d="M580,346 V483.6" stroke="#3e3a39" stroke-width="0.5" stroke-dasharray="11 1.6 1.6 1.6" fill="none"/></g>
</svg>
<!--/DRAWINGS-->

</body>
</html>
